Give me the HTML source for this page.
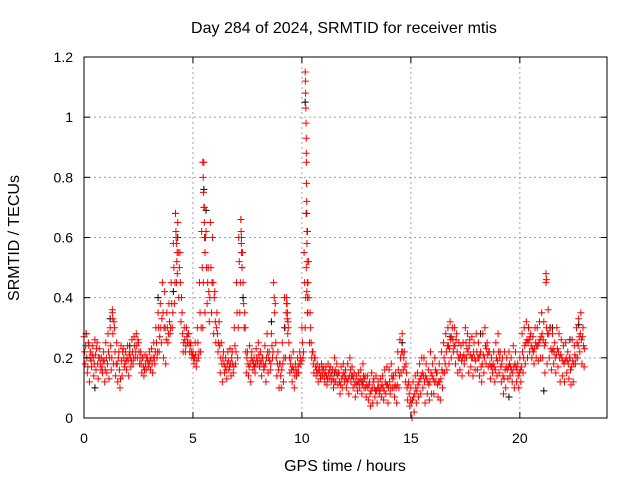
<!DOCTYPE html>
<html><head><meta charset="utf-8"><style>
body{margin:0;background:#fff}
svg{display:block;font-family:"Liberation Sans",sans-serif}
</style></head><body>
<svg id="chart" width="640" height="480" xmlns="http://www.w3.org/2000/svg">
<text x="344" y="33" font-size="16" text-anchor="middle">Day 284 of 2024, SRMTID for receiver mtis</text>
<text x="345" y="471" font-size="16" text-anchor="middle">GPS time / hours</text>
<text x="19" y="238" font-size="16" text-anchor="middle" transform="rotate(-90 19 238)">SRMTID / TECUs</text>
<g id="grid"></g>
<g id="marks"></g>
<rect x="84" y="57" width="523" height="361" fill="none" stroke="#000" stroke-width="1"/>
<g id="ticks"></g>
</svg>
<script>
const xTicks=[0,5,10,15,20];
const yTicks=[0,0.2,0.4,0.6,0.8,1,1.2];
const yTickLabels=["0","0.2","0.4","0.6","0.8","1","1.2"];
const redHi=[.27,.28,.25,.22,.24,.26,.25,.23,.2,.22,.25,.28,.3,.35,.3,.25,.22,.24,.23,.22,.24,.22,.26,.27,.28,.25,.22,.2,.21,.2,.22,.23,.25,.3,.35,.38,.45,.42,.35,.38,.45,.58,.68,.65,.55,.35,.3,.3,.28,.25,.22,.25,.3,.45,.62,.85,.62,.5,.65,.6,.42,.35,.32,.25,.22,.2,.22,.23,.22,.3,.45,.6,.66,.45,.3,.22,.24,.22,.2,.23,.25,.22,.2,.24,.28,.22,.28,.45,.25,.22,.18,.25,.4,.38,.25,.2,.22,.18,.2,.22,.3,.55,.5,.52,.3,.22,.2,.18,.17,.18,.16,.17,.18,.17,.16,.2,.18,.15,.17,.18,.16,.18,.2,.17,.15,.14,.15,.16,.18,.14,.14,.12,.15,.13,.14,.12,.13,.14,.16,.17,.16,.18,.14,.15,.22,.26,.28,.22,.15,.12,.1,.12,.14,.15,.18,.2,.2,.18,.16,.22,.18,.2,.15,.18,.22,.25,.28,.3,.32,.3,.3,.28,.25,.24,.25,.3,.28,.26,.27,.25,.28,.25,.22,.28,.3,.25,.22,.2,.22,.25,.28,.22,.2,.22,.2,.22,.2,.24,.22,.18,.2,.28,.3,.32,.3,.28,.27,.3,.3,.32,.35,.32,.45,.36,.3,.28,.25,.3,.28,.26,.24,.25,.22,.2,.26,.24,.3,.33,.35,.3];
const redLo=[.18,.15,.12,.17,.14,.16,.13,.18,.15,.12,.15,.13,.16,.18,.14,.12,.1,.14,.17,.16,.14,.17,.18,.2,.2,.18,.15,.14,.16,.17,.16,.15,.18,.2,.22,.25,.2,.18,.25,.28,.3,.38,.45,.4,.32,.22,.22,.25,.22,.2,.18,.17,.2,.22,.3,.35,.38,.32,.35,.28,.25,.22,.15,.12,.15,.13,.16,.14,.15,.18,.2,.35,.5,.3,.15,.14,.12,.16,.15,.18,.17,.14,.16,.12,.15,.16,.2,.35,.14,.1,.1,.12,.2,.28,.15,.12,.1,.14,.15,.18,.2,.3,.35,.25,.2,.15,.14,.12,.13,.14,.12,.11,.13,.12,.1,.12,.11,.08,.1,.12,.1,.08,.12,.1,.07,.09,.1,.08,.1,.07,.06,.04,.05,.07,.05,.08,.07,.06,.08,.05,.08,.1,.07,.05,.1,.15,.16,.12,.06,.04,0,.02,.05,.07,.08,.1,.05,.08,.06,.08,.08,.12,.07,.06,.1,.15,.16,.18,.2,.22,.18,.15,.16,.14,.18,.2,.15,.17,.14,.16,.16,.14,.12,.15,.18,.17,.13,.15,.12,.14,.15,.12,.08,.1,.13,.14,.12,.1,.12,.1,.12,.15,.18,.2,.22,.2,.18,.2,.19,.2,.2,.15,.18,.2,.16,.18,.15,.17,.12,.14,.12,.15,.13,.11,.12,.18,.2,.22,.18,.17];
const redMidA=[.22,.2,.24,.19,.2,.21,.18,.2,.17,.19,.2,.22,.24,.28,.22,.18,.16,.19,.2,.19,.19,.2,.22,.24,.24,.22,.18,.17,.18,.19,.19,.18,.2,.25,.3,.3,.35,.3,.3,.32,.38,.5,.6,.55,.45,.28,.26,.27,.25,.22,.2,.21,.25,.35,.5,.7,.5,.42,.5,.45,.32,.28,.24,.18,.18,.16,.19,.18,.18,.24,.35,.52,.6,.38,.22,.18,.18,.19,.17,.2,.21,.18,.18,.18,.22,.19,.24,.4,.2,.16,.14,.18,.3,.33,.2,.16,.16,.16,.17,.2,.25,.45,.42,.4,.25,.18,.17,.15,.15,.16,.14,.14,.15,.14,.13,.16,.14,.12,.13,.15,.13,.13,.16,.14,.11,.11,.12,.12,.14,.1,.1,.08,.1,.1,.09,.1,.1,.1,.12,.11,.12,.14,.1,.1,.16,.2,.22,.17,.1,.08,.05,.07,.1,.11,.13,.15,.12,.13,.11,.15,.13,.16,.11,.12,.16,.2,.22,.24,.26,.26,.24,.22,.2,.19,.21,.25,.22,.21,.2,.2,.22,.2,.17,.21,.24,.21,.18,.17,.17,.2,.22,.17,.14,.16,.16,.18,.16,.17,.17,.14,.16,.22,.24,.26,.26,.24,.22,.25,.24,.26,.28,.24,.3,.28,.23,.23,.2,.23,.2,.2,.18,.2,.18,.16,.19,.21,.25,.27,.26,.24];
const redMidB=[.24,.17,.2,.21,.18,.23,.2,.16,.19,.16,.18,.2,.2,.32,.18,.2,.13,.22,.18,.2,.21,.19,.2,.22,.26,.2,.2,.16,.2,.18,.2,.2,.22,.22,.27,.33,.3,.26,.28,.3,.35,.45,.55,.5,.4,.25,.24,.28,.24,.21,.2,.19,.22,.3,.45,.6,.45,.4,.45,.4,.3,.25,.2,.2,.17,.18,.17,.2,.17,.22,.3,.45,.55,.35,.2,.17,.2,.18,.18,.19,.19,.2,.17,.2,.2,.18,.22,.38,.18,.18,.16,.2,.35,.3,.18,.17,.14,.15,.18,.19,.22,.4,.45,.35,.22,.2,.16,.16,.14,.17,.15,.13,.16,.15,.12,.15,.15,.11,.14,.14,.12,.14,.14,.13,.12,.12,.13,.11,.13,.11,.11,.09,.12,.09,.1,.09,.11,.09,.11,.1,.1,.13,.11,.11,.14,.22,.2,.18,.11,.06,.06,.08,.09,.12,.14,.14,.14,.12,.12,.14,.12,.15,.12,.13,.15,.18,.24,.23,.27,.24,.26,.2,.21,.2,.2,.23,.24,.2,.22,.19,.2,.21,.18,.2,.23,.22,.17,.18,.16,.19,.2,.18,.13,.17,.17,.17,.15,.18,.16,.15,.17,.2,.25,.25,.27,.23,.23,.24,.25,.27,.26,.25,.28,.3,.22,.22,.21,.22,.21,.19,.19,.19,.2,.17,.18,.2,.24,.28,.27,.23];
const spikeT=[10.15,10.16,10.17,10.18,10.19,10.2,10.2,10.21,10.21,10.22,10.22,10.23,10.23,10.24,10.25,10.26,10.27,5.45,5.47,5.48,5.5,5.52,5.53,5.55,4.2,4.22,4.24,4.26,4.28,7.2,7.21,7.22,7.23,7.25,9.3,9.32,9.34,9.36,1.3,1.32,21.2,21.22];
const spikeV=[1.15,1.12,1.08,1.03,0.98,0.93,0.88,0.85,0.78,0.72,0.68,0.62,0.58,0.52,0.45,0.4,0.35,0.85,0.8,0.75,0.7,0.65,0.6,0.55,0.68,0.62,0.58,0.52,0.48,0.66,0.62,0.58,0.55,0.5,0.4,0.38,0.35,0.32,0.36,0.33,0.48,0.46];
const blackT=[0.1,0.5,1.2,2.1,3.4,4.1,4.3,5.5,5.6,7.3,8.6,9.2,10.15,10.2,10.25,11.5,12.8,14.6,16.8,18.2,19.5,20.4,21.1,21.5,22.3,22.7];
const blackV=[0.28,0.1,0.33,0.24,0.4,0.42,0.6,0.76,0.69,0.4,0.32,0.3,1.05,0.68,0.62,0.15,0.12,0.25,0.27,0.28,0.07,0.3,0.09,0.3,0.26,0.31];
const X=t=>84+t*(523/24), Y=v=>418-v*(361/1.2);
const NS="http://www.w3.org/2000/svg";
const grid=document.getElementById('grid'),ticks=document.getElementById('ticks'),marks=document.getElementById('marks');
function mk(tag,attrs,parent){const e=document.createElementNS(NS,tag);for(const k in attrs)e.setAttribute(k,attrs[k]);parent.appendChild(e);return e;}
xTicks.forEach(t=>{
 if(t>0){const g=mk('line',{x1:X(t),x2:X(t),y1:57,y2:418,stroke:'#a0a0a0','stroke-dasharray':'2,3'},grid);
 
 }
 const a=mk('line',{x1:X(t),x2:X(t),y1:418,y2:412,stroke:'#000'},ticks);
 
 
 const b=mk('line',{x1:X(t),x2:X(t),y1:57,y2:63,stroke:'#000'},ticks);
 
 
 const l=mk('text',{x:X(t),y:443,'font-size':14,'text-anchor':'middle'},ticks);l.textContent=String(t);
 
 
});
yTicks.forEach((v,i)=>{
 if(v>0&&v<1.2){const g=mk('line',{x1:84,x2:607,y1:Y(v),y2:Y(v),stroke:'#a0a0a0','stroke-dasharray':'2,3'},grid);
 
 }
 const a=mk('line',{x1:84,x2:90,y1:Y(v),y2:Y(v),stroke:'#000'},ticks);
 
 
 const b=mk('line',{x1:601,x2:607,y1:Y(v),y2:Y(v),stroke:'#000'},ticks);
 
 
 const l=mk('text',{x:73,y:Y(v)+5,'font-size':14,'text-anchor':'end'},ticks);l.textContent=yTickLabels[i];
 
 
});
function plus(t,v,c,name){
 const x=X(t),y=Y(v);
 const p=mk('path',{d:`M${x-3.5} ${y}h7M${x} ${y-3.5}v7`,stroke:c,'stroke-width':1,fill:'none'},marks);
 
 
}
blackT.forEach((t,i)=>plus(t,blackV[i],'#000','black-point'));
redHi.forEach((v,i)=>plus(i*0.1,v,'#f00','red-point'));
redLo.forEach((v,i)=>plus(i*0.1+0.05,v,'#f00','red-point'));
redMidA.forEach((v,i)=>plus(i*0.1+0.025,v,'#f00','red-point'));
redMidB.forEach((v,i)=>plus(i*0.1+0.075,v,'#f00','red-point'));
spikeT.forEach((t,i)=>plus(t,spikeV[i],'#f00','red-point'));
</script>
</body></html>
